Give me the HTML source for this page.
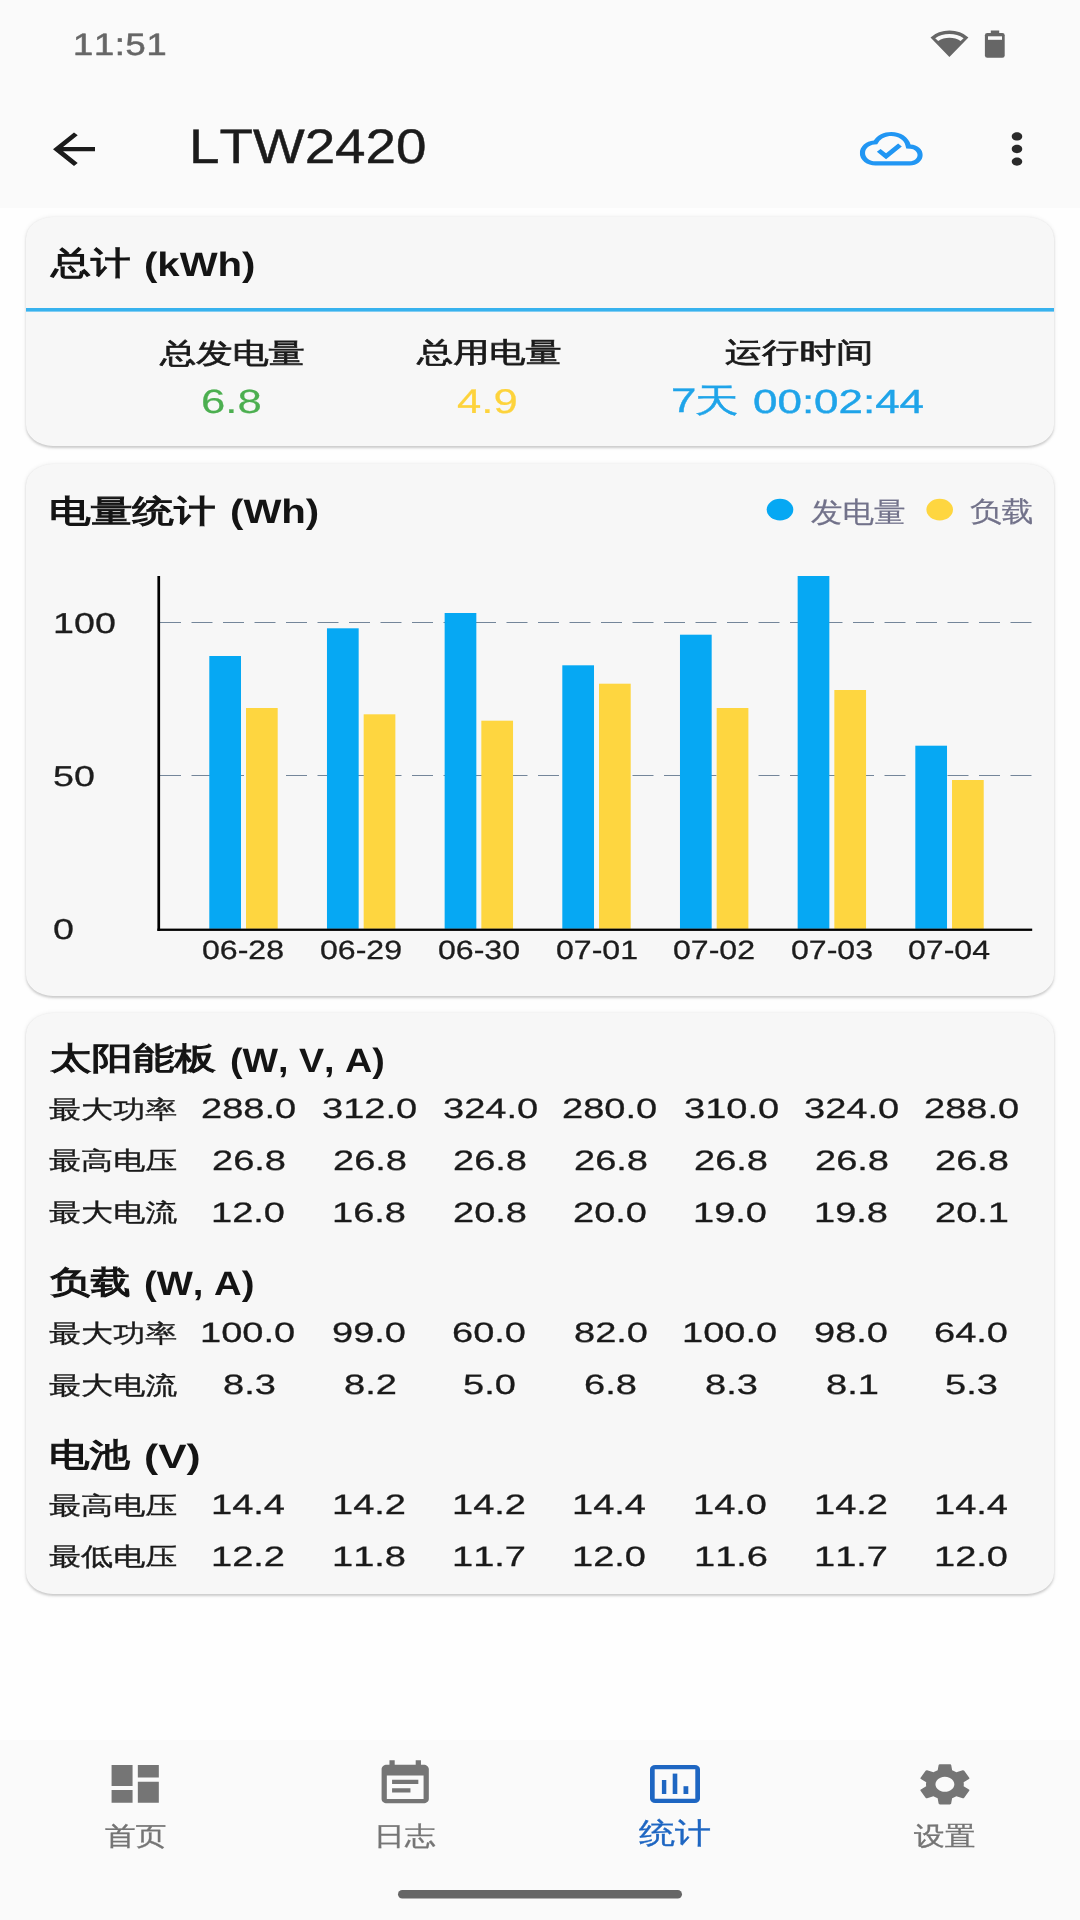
<!DOCTYPE html>
<html lang="zh"><head><meta charset="utf-8"><title>LTW2420</title>
<style>
html,body{margin:0;padding:0;}
body{width:1080px;height:1920px;overflow:hidden;background:#fefefe;position:relative;font-family:'Liberation Sans',sans-serif;}
.t{position:absolute;white-space:nowrap;line-height:1;transform-origin:0 0;font-family:'Liberation Sans',sans-serif;text-rendering:geometricPrecision;font-kerning:none;}
.bar{position:absolute;left:0;width:1080px;background:#fafafa;}
.card{position:absolute;left:25.5px;width:1028.5px;background:#f7f7f7;border-radius:27px/21.6px;box-shadow:0 1.6px 2.2px rgba(0,0,0,0.16),0 0.5px 5px rgba(0,0,0,0.07);}
svg.ov{position:absolute;left:0;top:0;}
#txt{position:absolute;left:0;top:0;width:1080px;height:1920px;will-change:transform;}
</style></head><body>
<div class="bar" style="top:0;height:208px"></div>
<div class="bar" style="top:1739.5px;height:180.5px"></div>
<div class="card" style="top:217px;height:229.3px"></div>
<div class="card" style="top:463.5px;height:532.5px"></div>
<div class="card" style="top:1013px;height:581px"></div>
<svg class="ov" width="1080" height="1920" viewBox="0 0 1080 1920">
<line x1="160" y1="622.5" x2="1032" y2="622.5" stroke="#74869a" stroke-width="1" stroke-dasharray="21 10.5"/>
<line x1="160" y1="775.5" x2="1032" y2="775.5" stroke="#74869a" stroke-width="1" stroke-dasharray="21 10.5"/>
<rect x="209.30" y="656" width="31.7" height="272.80" fill="#06a8f3"/>
<rect x="246.00" y="708" width="31.7" height="220.80" fill="#fed640"/>
<rect x="326.97" y="628.3" width="31.7" height="300.50" fill="#06a8f3"/>
<rect x="363.67" y="714.3" width="31.7" height="214.50" fill="#fed640"/>
<rect x="444.64" y="613" width="31.7" height="315.80" fill="#06a8f3"/>
<rect x="481.34" y="720.7" width="31.7" height="208.10" fill="#fed640"/>
<rect x="562.31" y="665.3" width="31.7" height="263.50" fill="#06a8f3"/>
<rect x="599.01" y="683.7" width="31.7" height="245.10" fill="#fed640"/>
<rect x="679.98" y="634.7" width="31.7" height="294.10" fill="#06a8f3"/>
<rect x="716.68" y="708" width="31.7" height="220.80" fill="#fed640"/>
<rect x="797.65" y="576" width="31.7" height="352.80" fill="#06a8f3"/>
<rect x="834.35" y="690" width="31.7" height="238.80" fill="#fed640"/>
<rect x="915.32" y="745.7" width="31.7" height="183.10" fill="#06a8f3"/>
<rect x="952.02" y="780" width="31.7" height="148.80" fill="#fed640"/>
<rect x="157.4" y="576" width="2.7" height="354.9" fill="#000"/>
<rect x="157.4" y="928.6" width="874.8" height="2.3" fill="#000"/>
<ellipse cx="780" cy="509.6" rx="13.3" ry="10.8" fill="#06a8f3"/>
<ellipse cx="939.7" cy="509.6" rx="13.3" ry="10.8" fill="#fed640"/>
<rect x="26" y="308" width="1028" height="3.6" fill="#38b2ee"/>
<svg x="42.5" y="124" width="63" height="50.4" viewBox="0 0 24 24" preserveAspectRatio="none"><path fill="#1b1b1b" d="M20 11H7.83l5.59-5.59L12 4l-8 8 8 8 1.41-1.41L7.83 13H20v-2z" /></svg>
<svg x="859.8" y="123.5" width="63" height="50.4" viewBox="0 0 24 24" preserveAspectRatio="none"><path fill="#2196f3" d="M19.35 10.04C18.67 6.59 15.64 4 12 4 9.11 4 6.6 5.64 5.35 8.04 2.34 8.36 0 10.91 0 14c0 3.31 2.69 6 6 6h13c2.76 0 5-2.24 5-5 0-2.64-2.05-4.78-4.65-4.96zM19 18H6c-2.21 0-4-1.79-4-4 0-2.05 1.53-3.76 3.56-3.97l1.07-.11.5-.95C8.08 7.14 9.94 6 12 6c2.62 0 4.88 1.86 5.39 4.43l.3 1.5 1.53.11c1.56.1 2.78 1.41 2.78 2.96 0 1.65-1.35 3-3 3zm-9-3.82l-2.09-2.09L6.5 13.5 10 17l6.01-6.01-1.41-1.41z" /></svg>
<svg x="985.5" y="123.8" width="63" height="50.4" viewBox="0 0 24 24" preserveAspectRatio="none"><path fill="#2a2a2a" d="M12 8c1.1 0 2-.9 2-2s-.9-2-2-2-2 .9-2 2 .9 2 2 2zm0 2c-1.1 0-2 .9-2 2s.9 2 2 2 2-.9 2-2-.9-2-2-2zm0 6c-1.1 0-2 .9-2 2s.9 2 2 2 2-.9 2-2-.9-2-2-2z" /></svg>
<svg x="103.7" y="1758.6" width="63" height="50.4" viewBox="0 0 24 24" preserveAspectRatio="none"><path fill="#757575" d="M3 13h8V3H3v10zm0 8h8v-6H3v6zm10 0h8V11h-8v10zm0-18v6h8V3h-8z" /></svg>
<svg x="373.7" y="1758.2" width="63" height="51.6" viewBox="0 0 24 24" preserveAspectRatio="none"><path fill="#757575" d="M17 10H7v2h10v-2zm2-7h-1V1h-2v2H8V1H6v2H5c-1.11 0-1.99.9-1.99 2L3 19c0 1.1.89 2 2 2h14c1.1 0 2-.9 2-2V5c0-1.1-.9-2-2-2zm0 16H5V8h14v11zm-5-5H7v2h7v-2z" /></svg>
<svg x="913.4" y="1759.1" width="63" height="50.4" viewBox="0 0 24 24" preserveAspectRatio="none"><path fill="#757575" d="M19.14 12.94c.04-.3.06-.61.06-.94 0-.32-.02-.64-.07-.94l2.03-1.58c.18-.14.23-.41.12-.61l-1.92-3.32c-.12-.22-.37-.29-.59-.22l-2.39.96c-.5-.38-1.03-.7-1.62-.94l-.36-2.54c-.04-.24-.24-.41-.48-.41h-3.84c-.24 0-.43.17-.47.41l-.36 2.54c-.59.24-1.13.57-1.62.94l-2.39-.96c-.22-.08-.47 0-.59.22L2.74 8.87c-.12.21-.08.47.12.61l2.03 1.58c-.05.3-.09.63-.09.94s.02.64.07.94l-2.03 1.58c-.18.14-.23.41-.12.61l1.92 3.32c.12.22.37.29.59.22l2.39-.96c.5.38 1.03.7 1.62.94l.36 2.54c.05.24.24.41.48.41h3.84c.24 0 .44-.17.47-.41l.36-2.54c.59-.24 1.13-.56 1.62-.94l2.39.96c.22.08.47 0 .59-.22l1.92-3.32c.12-.22.07-.47-.12-.61l-2.01-1.58zM12 15.6c-1.98 0-3.6-1.62-3.6-3.6s1.62-3.6 3.6-3.6 3.6 1.62 3.6 3.6-1.62 3.6-3.6 3.6z" /></svg>
<path fill-rule="evenodd" fill="#1e66c2" d="M655.2 1765 H694.8 A5.2 4.2 0 0 1 700 1769.2 V1798.8 A5.2 4.2 0 0 1 694.8 1803 H655.2 A5.2 4.2 0 0 1 650 1798.8 V1769.2 A5.2 4.2 0 0 1 655.2 1765 Z M654.7 1769.2 V1798.8 H695.3 V1769.2 Z"/>
<rect x="661.9" y="1780" width="4.4" height="14" fill="#1e66c2"/>
<rect x="672.7" y="1773.6" width="4.6" height="20.4" fill="#1e66c2"/>
<rect x="683.5" y="1786.2" width="4.8" height="7.8" fill="#1e66c2"/>
<rect x="398" y="1890" width="284" height="8.5" rx="4.25" fill="#666"/>
<path d="M949.4 57.1 L930.5 37.4 A25 20 0 0 1 968.4 37.4 Z M935.2 38.2 L938.2 40.9 A18 14.4 0 0 1 960.6 40.9 L963.6 38.2 A22 17.6 0 0 0 935.2 38.2 Z" fill="#666666" fill-rule="evenodd"/>
<rect x="990.8" y="30.5" width="8.4" height="4" fill="#666666"/>
<rect x="984.9" y="33.1" width="19.8" height="24.7" rx="2.4" ry="2.2" fill="#666666"/>
<rect x="988" y="36.3" width="14" height="3.5" fill="#fafafa"/>
</svg>
<div id="txt">
<div class="t" style="left:73.26px;top:28.55px;font-size:30.99px;transform:scaleX(1.1707);color:#666666;-webkit-text-stroke:0.55px #666666;letter-spacing:0.6px;">11:51</div>
<div class="t" style="left:189.49px;top:123.32px;font-size:48.45px;transform:scaleX(1.1310);color:#1b1b1b;-webkit-text-stroke:0.45px #1b1b1b;">LTW2420</div>
<div class="t" style="left:51.19px;top:247.30px;font-size:32.02px;transform:scaleX(1.2430);color:#141414;-webkit-text-stroke:1.1px #141414;">总计</div>
<div class="t" style="left:143.89px;top:248.52px;font-size:33.77px;transform:scaleX(1.1890);color:#141414;font-weight:700;">(kWh)</div>
<div class="t" style="left:49.25px;top:495.58px;font-size:31.70px;transform:scaleX(1.3141);color:#141414;-webkit-text-stroke:1.1px #141414;">电量统计</div>
<div class="t" style="left:229.89px;top:496.12px;font-size:33.77px;transform:scaleX(1.1901);color:#141414;font-weight:700;">(Wh)</div>
<div class="t" style="left:49.92px;top:1043.21px;font-size:31.39px;transform:scaleX(1.3229);color:#141414;-webkit-text-stroke:1.1px #141414;">太阳能板</div>
<div class="t" style="left:229.82px;top:1044.70px;font-size:33.77px;transform:scaleX(1.1151);color:#141414;font-weight:700;">(W, V, A)</div>
<div class="t" style="left:50.40px;top:1266.95px;font-size:31.70px;transform:scaleX(1.2746);color:#141414;-webkit-text-stroke:1.1px #141414;">负载</div>
<div class="t" style="left:144.29px;top:1268.12px;font-size:33.77px;transform:scaleX(1.1325);color:#141414;font-weight:700;">(W, A)</div>
<div class="t" style="left:49.37px;top:1438.90px;font-size:32.35px;transform:scaleX(1.2525);color:#141414;-webkit-text-stroke:1.1px #141414;">电池</div>
<div class="t" style="left:143.98px;top:1440.70px;font-size:33.77px;transform:scaleX(1.2568);color:#141414;font-weight:700;">(V)</div>
<div class="t" style="left:159.77px;top:339.80px;font-size:28.16px;transform:scaleX(1.2859);color:#1a1a1a;-webkit-text-stroke:0.7px #1a1a1a;">总发电量</div>
<div class="t" style="left:416.92px;top:338.80px;font-size:27.96px;transform:scaleX(1.2926);color:#1a1a1a;-webkit-text-stroke:0.7px #1a1a1a;">总用电量</div>
<div class="t" style="left:724.83px;top:338.80px;font-size:27.68px;transform:scaleX(1.3415);color:#1a1a1a;-webkit-text-stroke:0.7px #1a1a1a;">运行时间</div>
<div class="t" style="left:200.52px;top:385.81px;font-size:33.52px;transform:scaleX(1.3034);color:#4caf50;-webkit-text-stroke:0.2px #4caf50;">6.8</div>
<div class="t" style="left:457.39px;top:384.66px;font-size:34.29px;transform:scaleX(1.2735);color:#fdd33c;-webkit-text-stroke:0.2px #fdd33c;">4.9</div>
<div class="t" style="left:671.11px;top:384.20px;font-size:34.35px;transform:scaleX(1.3328);color:#1fa4e9;-webkit-text-stroke:0.4px #1fa4e9;">7</div>
<div class="t" style="left:694.77px;top:384.79px;font-size:33.68px;transform:scaleX(1.2966);color:#1fa4e9;-webkit-text-stroke:0.4px #1fa4e9;">天</div>
<div class="t" style="left:752.59px;top:385.68px;font-size:33.38px;transform:scaleX(1.3167);color:#1fa4e9;-webkit-text-stroke:0.4px #1fa4e9;">00:02:44</div>
<div class="t" style="left:810.83px;top:499.33px;font-size:28.51px;transform:scaleX(1.1069);color:#72728a;-webkit-text-stroke:0.2px #72728a;">发电量</div>
<div class="t" style="left:969.86px;top:498.34px;font-size:27.92px;transform:scaleX(1.1396);color:#72728a;-webkit-text-stroke:0.2px #72728a;">负载</div>
<div class="t" style="left:52.65px;top:610.18px;font-size:28.73px;transform:scaleX(1.3113);color:#1d1d1d;-webkit-text-stroke:0.3px #1d1d1d;">100</div>
<div class="t" style="left:53.29px;top:762.58px;font-size:28.73px;transform:scaleX(1.3113);color:#1d1d1d;-webkit-text-stroke:0.3px #1d1d1d;">50</div>
<div class="t" style="left:53.07px;top:916.18px;font-size:28.73px;transform:scaleX(1.3113);color:#1d1d1d;-webkit-text-stroke:0.3px #1d1d1d;">0</div>
<div class="t" style="left:202.49px;top:936.63px;font-size:26.41px;transform:scaleX(1.2150);color:#1d1d1d;-webkit-text-stroke:0.3px #1d1d1d;">06-28</div>
<div class="t" style="left:320.36px;top:936.63px;font-size:26.41px;transform:scaleX(1.2150);color:#1d1d1d;-webkit-text-stroke:0.3px #1d1d1d;">06-29</div>
<div class="t" style="left:438.03px;top:936.63px;font-size:26.41px;transform:scaleX(1.2150);color:#1d1d1d;-webkit-text-stroke:0.3px #1d1d1d;">06-30</div>
<div class="t" style="left:555.69px;top:936.63px;font-size:26.41px;transform:scaleX(1.2150);color:#1d1d1d;-webkit-text-stroke:0.3px #1d1d1d;">07-01</div>
<div class="t" style="left:672.81px;top:936.63px;font-size:26.41px;transform:scaleX(1.2150);color:#1d1d1d;-webkit-text-stroke:0.3px #1d1d1d;">07-02</div>
<div class="t" style="left:791.04px;top:936.63px;font-size:26.41px;transform:scaleX(1.2150);color:#1d1d1d;-webkit-text-stroke:0.3px #1d1d1d;">07-03</div>
<div class="t" style="left:908.41px;top:936.63px;font-size:26.41px;transform:scaleX(1.2150);color:#1d1d1d;-webkit-text-stroke:0.3px #1d1d1d;">07-04</div>
<div class="t" style="left:49.08px;top:1098.77px;font-size:24.74px;transform:scaleX(1.2966);color:#1a1a1a;-webkit-text-stroke:0.35px #1a1a1a;">最大功率</div>
<div class="t" style="left:201.06px;top:1095.23px;font-size:28.03px;transform:scaleX(1.3576);color:#1a1a1a;-webkit-text-stroke:0.3px #1a1a1a;">288.0</div>
<div class="t" style="left:321.94px;top:1095.23px;font-size:28.03px;transform:scaleX(1.3576);color:#1a1a1a;-webkit-text-stroke:0.3px #1a1a1a;">312.0</div>
<div class="t" style="left:442.94px;top:1095.23px;font-size:28.03px;transform:scaleX(1.3576);color:#1a1a1a;-webkit-text-stroke:0.3px #1a1a1a;">324.0</div>
<div class="t" style="left:562.06px;top:1095.23px;font-size:28.03px;transform:scaleX(1.3576);color:#1a1a1a;-webkit-text-stroke:0.3px #1a1a1a;">280.0</div>
<div class="t" style="left:683.94px;top:1095.23px;font-size:28.03px;transform:scaleX(1.3576);color:#1a1a1a;-webkit-text-stroke:0.3px #1a1a1a;">310.0</div>
<div class="t" style="left:803.94px;top:1095.23px;font-size:28.03px;transform:scaleX(1.3576);color:#1a1a1a;-webkit-text-stroke:0.3px #1a1a1a;">324.0</div>
<div class="t" style="left:924.06px;top:1095.23px;font-size:28.03px;transform:scaleX(1.3576);color:#1a1a1a;-webkit-text-stroke:0.3px #1a1a1a;">288.0</div>
<div class="t" style="left:49.34px;top:1150.45px;font-size:24.74px;transform:scaleX(1.2966);color:#1a1a1a;-webkit-text-stroke:0.35px #1a1a1a;">最高电压</div>
<div class="t" style="left:211.71px;top:1146.73px;font-size:28.03px;transform:scaleX(1.3576);color:#1a1a1a;-webkit-text-stroke:0.3px #1a1a1a;">26.8</div>
<div class="t" style="left:332.71px;top:1146.73px;font-size:28.03px;transform:scaleX(1.3576);color:#1a1a1a;-webkit-text-stroke:0.3px #1a1a1a;">26.8</div>
<div class="t" style="left:452.71px;top:1146.73px;font-size:28.03px;transform:scaleX(1.3576);color:#1a1a1a;-webkit-text-stroke:0.3px #1a1a1a;">26.8</div>
<div class="t" style="left:573.71px;top:1146.73px;font-size:28.03px;transform:scaleX(1.3576);color:#1a1a1a;-webkit-text-stroke:0.3px #1a1a1a;">26.8</div>
<div class="t" style="left:693.71px;top:1146.73px;font-size:28.03px;transform:scaleX(1.3576);color:#1a1a1a;-webkit-text-stroke:0.3px #1a1a1a;">26.8</div>
<div class="t" style="left:814.71px;top:1146.73px;font-size:28.03px;transform:scaleX(1.3576);color:#1a1a1a;-webkit-text-stroke:0.3px #1a1a1a;">26.8</div>
<div class="t" style="left:934.71px;top:1146.73px;font-size:28.03px;transform:scaleX(1.3576);color:#1a1a1a;-webkit-text-stroke:0.3px #1a1a1a;">26.8</div>
<div class="t" style="left:49.08px;top:1202.37px;font-size:24.74px;transform:scaleX(1.2966);color:#1a1a1a;-webkit-text-stroke:0.35px #1a1a1a;">最大电流</div>
<div class="t" style="left:211.33px;top:1198.53px;font-size:28.03px;transform:scaleX(1.3576);color:#1a1a1a;-webkit-text-stroke:0.3px #1a1a1a;">12.0</div>
<div class="t" style="left:331.83px;top:1198.53px;font-size:28.03px;transform:scaleX(1.3576);color:#1a1a1a;-webkit-text-stroke:0.3px #1a1a1a;">16.8</div>
<div class="t" style="left:452.71px;top:1198.53px;font-size:28.03px;transform:scaleX(1.3576);color:#1a1a1a;-webkit-text-stroke:0.3px #1a1a1a;">20.8</div>
<div class="t" style="left:573.21px;top:1198.53px;font-size:28.03px;transform:scaleX(1.3576);color:#1a1a1a;-webkit-text-stroke:0.3px #1a1a1a;">20.0</div>
<div class="t" style="left:693.33px;top:1198.53px;font-size:28.03px;transform:scaleX(1.3576);color:#1a1a1a;-webkit-text-stroke:0.3px #1a1a1a;">19.0</div>
<div class="t" style="left:813.83px;top:1198.53px;font-size:28.03px;transform:scaleX(1.3576);color:#1a1a1a;-webkit-text-stroke:0.3px #1a1a1a;">19.8</div>
<div class="t" style="left:934.90px;top:1198.53px;font-size:28.03px;transform:scaleX(1.3576);color:#1a1a1a;-webkit-text-stroke:0.3px #1a1a1a;">20.1</div>
<div class="t" style="left:49.08px;top:1322.57px;font-size:24.74px;transform:scaleX(1.2966);color:#1a1a1a;-webkit-text-stroke:0.35px #1a1a1a;">最大功率</div>
<div class="t" style="left:200.18px;top:1319.03px;font-size:28.03px;transform:scaleX(1.3576);color:#1a1a1a;-webkit-text-stroke:0.3px #1a1a1a;">100.0</div>
<div class="t" style="left:332.40px;top:1319.03px;font-size:28.03px;transform:scaleX(1.3576);color:#1a1a1a;-webkit-text-stroke:0.3px #1a1a1a;">99.0</div>
<div class="t" style="left:452.21px;top:1319.03px;font-size:28.03px;transform:scaleX(1.3576);color:#1a1a1a;-webkit-text-stroke:0.3px #1a1a1a;">60.0</div>
<div class="t" style="left:573.90px;top:1319.03px;font-size:28.03px;transform:scaleX(1.3576);color:#1a1a1a;-webkit-text-stroke:0.3px #1a1a1a;">82.0</div>
<div class="t" style="left:682.18px;top:1319.03px;font-size:28.03px;transform:scaleX(1.3576);color:#1a1a1a;-webkit-text-stroke:0.3px #1a1a1a;">100.0</div>
<div class="t" style="left:814.40px;top:1319.03px;font-size:28.03px;transform:scaleX(1.3576);color:#1a1a1a;-webkit-text-stroke:0.3px #1a1a1a;">98.0</div>
<div class="t" style="left:934.21px;top:1319.03px;font-size:28.03px;transform:scaleX(1.3576);color:#1a1a1a;-webkit-text-stroke:0.3px #1a1a1a;">64.0</div>
<div class="t" style="left:49.08px;top:1374.82px;font-size:24.74px;transform:scaleX(1.2966);color:#1a1a1a;-webkit-text-stroke:0.35px #1a1a1a;">最大电流</div>
<div class="t" style="left:222.56px;top:1370.73px;font-size:28.03px;transform:scaleX(1.3576);color:#1a1a1a;-webkit-text-stroke:0.3px #1a1a1a;">8.3</div>
<div class="t" style="left:343.56px;top:1370.73px;font-size:28.03px;transform:scaleX(1.3576);color:#1a1a1a;-webkit-text-stroke:0.3px #1a1a1a;">8.2</div>
<div class="t" style="left:463.37px;top:1370.73px;font-size:28.03px;transform:scaleX(1.3576);color:#1a1a1a;-webkit-text-stroke:0.3px #1a1a1a;">5.0</div>
<div class="t" style="left:583.87px;top:1370.73px;font-size:28.03px;transform:scaleX(1.3576);color:#1a1a1a;-webkit-text-stroke:0.3px #1a1a1a;">6.8</div>
<div class="t" style="left:704.56px;top:1370.73px;font-size:28.03px;transform:scaleX(1.3576);color:#1a1a1a;-webkit-text-stroke:0.3px #1a1a1a;">8.3</div>
<div class="t" style="left:825.56px;top:1370.73px;font-size:28.03px;transform:scaleX(1.3576);color:#1a1a1a;-webkit-text-stroke:0.3px #1a1a1a;">8.1</div>
<div class="t" style="left:945.06px;top:1370.73px;font-size:28.03px;transform:scaleX(1.3576);color:#1a1a1a;-webkit-text-stroke:0.3px #1a1a1a;">5.3</div>
<div class="t" style="left:49.34px;top:1494.85px;font-size:24.74px;transform:scaleX(1.2966);color:#1a1a1a;-webkit-text-stroke:0.35px #1a1a1a;">最高电压</div>
<div class="t" style="left:211.14px;top:1491.29px;font-size:28.03px;transform:scaleX(1.3576);color:#1a1a1a;-webkit-text-stroke:0.3px #1a1a1a;">14.4</div>
<div class="t" style="left:332.02px;top:1491.29px;font-size:28.03px;transform:scaleX(1.3576);color:#1a1a1a;-webkit-text-stroke:0.3px #1a1a1a;">14.2</div>
<div class="t" style="left:452.02px;top:1491.29px;font-size:28.03px;transform:scaleX(1.3576);color:#1a1a1a;-webkit-text-stroke:0.3px #1a1a1a;">14.2</div>
<div class="t" style="left:572.14px;top:1491.29px;font-size:28.03px;transform:scaleX(1.3576);color:#1a1a1a;-webkit-text-stroke:0.3px #1a1a1a;">14.4</div>
<div class="t" style="left:693.33px;top:1491.29px;font-size:28.03px;transform:scaleX(1.3576);color:#1a1a1a;-webkit-text-stroke:0.3px #1a1a1a;">14.0</div>
<div class="t" style="left:814.02px;top:1491.29px;font-size:28.03px;transform:scaleX(1.3576);color:#1a1a1a;-webkit-text-stroke:0.3px #1a1a1a;">14.2</div>
<div class="t" style="left:934.14px;top:1491.29px;font-size:28.03px;transform:scaleX(1.3576);color:#1a1a1a;-webkit-text-stroke:0.3px #1a1a1a;">14.4</div>
<div class="t" style="left:49.34px;top:1546.23px;font-size:24.74px;transform:scaleX(1.2966);color:#1a1a1a;-webkit-text-stroke:0.35px #1a1a1a;">最低电压</div>
<div class="t" style="left:211.02px;top:1542.83px;font-size:28.03px;transform:scaleX(1.3576);color:#1a1a1a;-webkit-text-stroke:0.3px #1a1a1a;">12.2</div>
<div class="t" style="left:331.83px;top:1542.83px;font-size:28.03px;transform:scaleX(1.3576);color:#1a1a1a;-webkit-text-stroke:0.3px #1a1a1a;">11.8</div>
<div class="t" style="left:452.02px;top:1542.83px;font-size:28.03px;transform:scaleX(1.3576);color:#1a1a1a;-webkit-text-stroke:0.3px #1a1a1a;">11.7</div>
<div class="t" style="left:572.33px;top:1542.83px;font-size:28.03px;transform:scaleX(1.3576);color:#1a1a1a;-webkit-text-stroke:0.3px #1a1a1a;">12.0</div>
<div class="t" style="left:693.83px;top:1542.83px;font-size:28.03px;transform:scaleX(1.3576);color:#1a1a1a;-webkit-text-stroke:0.3px #1a1a1a;">11.6</div>
<div class="t" style="left:814.02px;top:1542.83px;font-size:28.03px;transform:scaleX(1.3576);color:#1a1a1a;-webkit-text-stroke:0.3px #1a1a1a;">11.7</div>
<div class="t" style="left:934.33px;top:1542.83px;font-size:28.03px;transform:scaleX(1.3576);color:#1a1a1a;-webkit-text-stroke:0.3px #1a1a1a;">12.0</div>
<div class="t" style="left:104.63px;top:1823.18px;font-size:26.00px;transform:scaleX(1.1800);color:#757575;-webkit-text-stroke:0.35px #757575;">首页</div>
<div class="t" style="left:374.27px;top:1823.48px;font-size:26.00px;transform:scaleX(1.1800);color:#757575;-webkit-text-stroke:0.35px #757575;">日志</div>
<div class="t" style="left:639.35px;top:1820.35px;font-size:28.97px;transform:scaleX(1.2459);color:#1e66c2;-webkit-text-stroke:0.35px #1e66c2;">统计</div>
<div class="t" style="left:914.33px;top:1823.18px;font-size:26.00px;transform:scaleX(1.1800);color:#757575;-webkit-text-stroke:0.35px #757575;">设置</div>
</div>
</body></html>
